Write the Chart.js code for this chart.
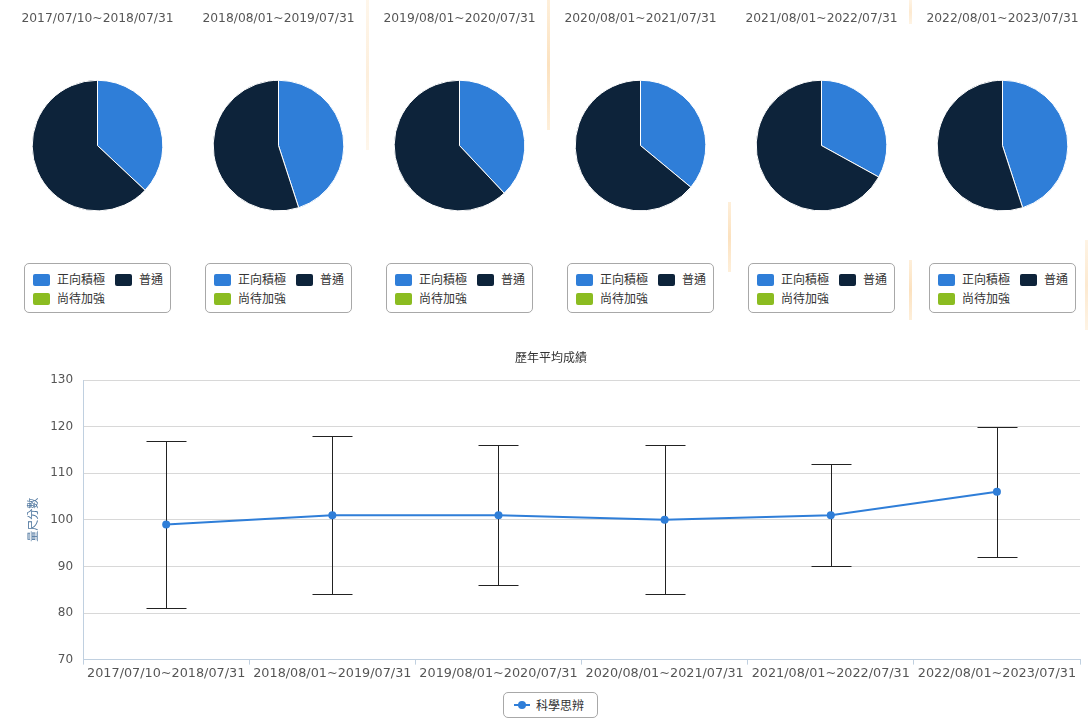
<!DOCTYPE html>
<html lang="zh-Hant">
<head>
<meta charset="utf-8">
<title>歷年平均成績</title>
<script src="https://cdn.jsdelivr.net/npm/chart.js"></script>
<style>
	body{ margin:0; background:#fff; font-family:'DejaVu Sans','Noto Sans CJK TC',sans-serif; }
	#wrap{ position:relative; width:1089px; height:720px; overflow:hidden; }
	#pies{ position:absolute; left:7px; top:0; width:1090px; height:330px; }
	.pie_col{ position:absolute; top:0; width:181px; height:330px; }
	.pie_col canvas{ position:absolute; left:0; top:0; }
	.pie_legend{ position:absolute; left:17px; top:263px; width:145px; height:38px; padding:5px 0 5px 0;
		border:1px solid #a8a8a8; border-radius:5px; font-family:'Noto Sans CJK TC',sans-serif; font-size:12px; color:#333; }
	.pie_legend span.item{ display:inline-block; height:19px; line-height:19px; vertical-align:top; }
	.pie_legend i{ display:inline-block; width:17px; height:12px; border-radius:2px; vertical-align:-2px; margin-right:7px; }
	.pie_legend .it0{ margin-left:8px; width:82px; }
	.pie_legend .it2{ margin-left:8px; }
	#line_box{ position:absolute; left:0; top:340px; }
	#line_legend{ position:absolute; left:503px; top:692px; width:93px; height:24px; border:1px solid #a8a8a8; border-radius:5px;
		font-family:'Noto Sans CJK TC',sans-serif; font-size:12px; color:#333; line-height:24px; }
	#line_legend .sym{ position:absolute; left:10px; top:11px; width:16px; height:2px; background:#2f7ed8; }
	#line_legend .sym:after{ content:''; position:absolute; left:4px; top:-3px; width:8px; height:8px; border-radius:50%; background:#2f7ed8; }
	#line_legend .txt{ position:absolute; left:32px; top:0; }
	.deco{ position:absolute; width:3px; background:linear-gradient(#fde2bc,#f9c98a,#fde2bc); opacity:.55; }
</style>
</head>
<body>
<div id="wrap">
	<!-- 背景裝飾線 -->
	<div class="deco" style="left:366px;top:0;height:150px;opacity:.3"></div>
	<div class="deco" style="left:547px;top:0;height:130px"></div>
	<div class="deco" style="left:728px;top:202px;height:70px"></div>
	<div class="deco" style="left:909px;top:0;height:24px;opacity:.4"></div>
	<div class="deco" style="left:909px;top:260px;height:60px"></div>
	<div class="deco" style="left:1085px;top:240px;height:90px;opacity:.4"></div>

	<div id="pies"></div>

	<div id="line_box">
		<canvas id="lineChart" width="1089" height="345"></canvas>
	</div>
	<div id="line_legend"><span class="sym"></span><span class="txt">科學思辨</span></div>
</div>
<script>

// 學年區間
const periods = [
	'2017/07/10~2018/07/31',
	'2018/08/01~2019/07/31',
	'2019/08/01~2020/07/31',
	'2020/08/01~2021/07/31',
	'2021/08/01~2022/07/31',
	'2022/08/01~2023/07/31'
];

// 圓餅圖 (%)
const pieLabels = ['正向積極', '普通', '尚待加強'];
const pieColors = ['#2f7ed8', '#0d233a', '#8bbc21'];
const positive = [37, 45, 38, 36, 33, 45];
const normal   = [63, 55, 62, 64, 67, 55];
const needWork = [0, 0, 0, 0, 0, 0];

// 折線圖 + 誤差線
const avgScore  = [99, 101, 101, 100, 101, 106];
const scoreLow  = [81, 84, 86, 84, 90, 92];
const scoreHigh = [117, 118, 116, 116, 112, 120];
const yMin = 70, yMax = 130, yStep = 10;

const FONT = "'DejaVu Sans','Noto Sans CJK TC',sans-serif";

// 圓餅圖
const pies = document.getElementById('pies');
for(let i = 0; i < periods.length; i++){
	const col = document.createElement('div');
	col.className = 'pie_col';
	col.style.left = (i * 181) + 'px';
	const cv = document.createElement('canvas');
	cv.width = 181; cv.height = 235;
	col.appendChild(cv);

	let legendHtml = '<div class="pie_legend">';
	for(let k = 0; k < pieLabels.length; k++){
		legendHtml += '<span class="item it' + k + '"><i style="background:' + pieColors[k] + '"></i>' + pieLabels[k] + '</span>';
		if(k == 1) legendHtml += '<br>';
	}
	legendHtml += '</div>';
	col.insertAdjacentHTML('beforeend', legendHtml);
	pies.appendChild(col);

	new Chart(cv, {
		type: 'pie',
		data: {
			labels: pieLabels,
			datasets: [{
				data: [positive[i], normal[i], needWork[i]],
				backgroundColor: pieColors,
				borderColor: '#ffffff',
				borderWidth: 1
			}]
		},
		options: {
			responsive: false,
			animation: false,
			layout: { padding: { bottom: 23.6 } },
			plugins: {
				legend: { display: false },
				tooltip: { enabled: false },
				title: {
					display: true,
					text: periods[i],
					color: '#555',
					font: { family: FONT, size: 12.3, weight: 'normal' },
					padding: { top: 11, bottom: 54 }
				}
			}
		}
	});
}

// 誤差線
const errorBars = {
	id: 'errorBars',
	beforeDatasetsDraw(chart){
		const ctx = chart.ctx, x = chart.scales.x, y = chart.scales.y;
		ctx.save();
		ctx.strokeStyle = '#222';
		ctx.lineWidth = 1;
		for(let i = 0; i < avgScore.length; i++){
			const px = Math.round(x.getPixelForValue(i)) + 0.5;
			const top = Math.round(y.getPixelForValue(scoreHigh[i])) + 0.5;
			const bot = Math.round(y.getPixelForValue(scoreLow[i])) + 0.5;
			ctx.beginPath();
			ctx.moveTo(px, top); ctx.lineTo(px, bot);
			ctx.moveTo(px - 20, top); ctx.lineTo(px + 20, top);
			ctx.moveTo(px - 20, bot); ctx.lineTo(px + 20, bot);
			ctx.stroke();
		}
		ctx.restore();
	}
};

new Chart(document.getElementById('lineChart'), {
	type: 'line',
	data: {
		labels: periods,
		datasets: [{
			label: '科學思辨',
			data: avgScore,
			borderColor: '#2f7ed8',
			backgroundColor: '#2f7ed8',
			borderWidth: 2,
			pointRadius: 4,
			pointBackgroundColor: '#2f7ed8',
			pointBorderWidth: 0,
			tension: 0
		}]
	},
	options: {
		responsive: false,
		animation: false,
		layout: { padding: { left: 22, right: 9, bottom: 3 } },
		scales: {
			x: {
				offset: true,
				grid: { offset: true, drawOnChartArea: false, tickLength: 5, color: '#c0d0e0' },
				border: { color: '#c0d0e0' },
				ticks: { color: '#555', padding: 1, maxRotation: 0, autoSkip: false, font: { family: FONT, size: 12.8 } }
			},
			y: {
				min: yMin,
				max: yMax,
				ticks: { stepSize: yStep, color: '#555', padding: 10, font: { family: FONT, size: 12 } },
				grid: { color: '#d8d8d8', drawTicks: false },
				border: { color: '#c0d0e0' },
				title: {
					display: true,
					text: '量尺分數',
					color: '#4d759e',
					font: { family: "'Noto Sans CJK TC',sans-serif", size: 11 },
					padding: { top: 4, bottom: 1 }
				}
			}
		},
		plugins: {
			legend: { display: false },
			tooltip: { enabled: false },
			title: {
				display: true,
				text: '歷年平均成績',
				color: '#333',
				font: { family: "'Noto Sans CJK TC',sans-serif", size: 12, weight: 'normal' },
				padding: { top: 10, bottom: 15.6 }
			}
		}
	},
	plugins: [errorBars]
});

</script>
</body>
</html>
